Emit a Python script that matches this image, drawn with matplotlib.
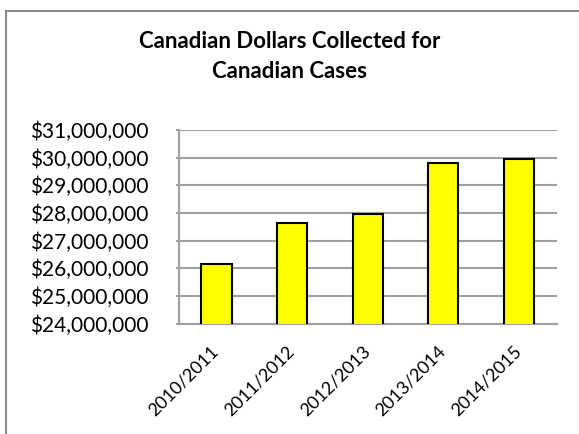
import matplotlib
matplotlib.use("Agg")
import matplotlib.pyplot as plt
from matplotlib.patches import Rectangle
from matplotlib.ticker import FuncFormatter
from matplotlib.transforms import ScaledTranslation

years = ["2010/2011", "2011/2012", "2012/2013", "2013/2014", "2014/2015"]
dollars = [26_150_000, 27_650_000, 27_950_000, 29_800_000, 29_950_000]

plt.rcParams["font.family"] = ["Lato", "DejaVu Sans"]

W, H = 579, 434
fig = plt.figure(figsize=(W / 100, H / 100), dpi=100)
fig.patch.set_facecolor("white")

# chart frame: only the left and top edges fall inside the image
fig.patches.append(Rectangle((6 / W, -0.1), 1.2, (H - 11) / H + 0.1, transform=fig.transFigure,
                             fill=False, edgecolor="#888888", linewidth=1.5))

ax = fig.add_axes([178.7 / W, 1 - 323.7 / H, 378 / W, 193.7 / H])
x = range(len(years))
ax.bar(x, dollars, width=0.4, color="#ffff00", edgecolor="black", linewidth=1.5, zorder=3)
ax.set_xlim(-0.5, len(years) - 0.5)
ax.set_ylim(24_000_000, 31_000_000)
ax.set_yticks(range(24_000_000, 31_000_001, 1_000_000))
ax.yaxis.set_major_formatter(FuncFormatter(lambda v, _: f"${v:,.0f}"))
ax.grid(axis="y", color="#a0a0a0", linewidth=1.5, zorder=0)
for side in ("top", "right"):
    ax.spines[side].set_visible(False)
for side in ("left", "bottom"):
    ax.spines[side].set_color("#a0a0a0")
    ax.spines[side].set_linewidth(1.5)
ax.tick_params(axis="y", length=2.5, color="#a0a0a0", width=1.5, labelsize=15, pad=19)
ax.tick_params(axis="x", length=0, labelsize=13, pad=11)
ax.set_xticks(list(x))
ax.set_xticklabels(years, rotation=45, ha="right", rotation_mode="anchor")
shift = ScaledTranslation(-6 / 100, -4 / 100, fig.dpi_scale_trans)
for label in ax.get_xticklabels():
    label.set_transform(label.get_transform() + shift)

fig.text(0.5, 1 - 56.5 / H, "Canadian Dollars Collected for\nCanadian Cases", ha="center", va="center",
         fontsize=16, fontweight="bold", linespacing=1.58)

fig.savefig("out.png", dpi=100)
